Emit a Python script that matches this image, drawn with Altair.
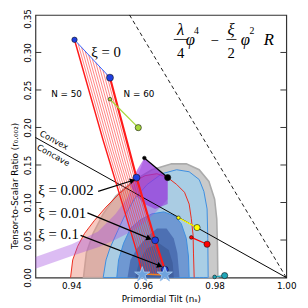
import altair as alt
import numpy as np
import pandas as pd

W, H = 256, 268
XDOM = [0.93, 1.00]
YDOM = [0.0, 0.35]

x_ticks = [0.94, 0.96, 0.98, 1.00]
y_ticks = [0.00, 0.05, 0.10, 0.15, 0.20, 0.25, 0.30, 0.35]

# ---- confidence regions (upper boundary, closed down to r = 0)
gray_ns = [0.9434, 0.9442, 0.9461, 0.9489, 0.9524, 0.9571, 0.9625, 0.9680, 0.9721, 0.9757, 0.9784, 0.9800, 0.9806, 0.9808, 0.9809]
gray_r = [0.0, 0.0326, 0.0588, 0.0849, 0.1084, 0.1280, 0.1437, 0.1515, 0.1515, 0.1437, 0.1280, 0.1045, 0.0784, 0.0392, 0.0]

salmon_ns = [0.9398, 0.9404, 0.9418, 0.9437, 0.9464, 0.9497, 0.9535, 0.9571, 0.9606, 0.9639, 0.9669, 0.9694, 0.9716, 0.9729, 0.9735, 0.9740, 0.9741, 0.9743]
salmon_r = [0.0, 0.0235, 0.0418, 0.0588, 0.0757, 0.0940, 0.1123, 0.1267, 0.1358, 0.1384, 0.1332, 0.1241, 0.1136, 0.0979, 0.0784, 0.0562, 0.0326, 0.0]

lblue_ns = [0.9489, 0.9497, 0.9508, 0.9530, 0.9549, 0.9576, 0.9612, 0.9653, 0.9694, 0.9729, 0.9757, 0.9770, 0.9779, 0.9781, 0.9782]
lblue_r = [0.0, 0.0235, 0.0392, 0.0627, 0.0823, 0.1045, 0.1241, 0.1384, 0.1437, 0.1410, 0.1306, 0.1149, 0.0914, 0.0522, 0.0]

mblue_ns = [0.9527, 0.9532, 0.9546, 0.9565, 0.9593, 0.9625, 0.9658, 0.9688, 0.9707, 0.9721, 0.9727, 0.9729]
mblue_r = [0.0, 0.0235, 0.0457, 0.0653, 0.0771, 0.0849, 0.0875, 0.0823, 0.0718, 0.0522, 0.0287, 0.0]

dblue_ns = [0.9557, 0.9565, 0.9584, 0.9612, 0.9639, 0.9666, 0.9686, 0.9696, 0.9702]
dblue_r = [0.0, 0.0235, 0.0392, 0.0548, 0.0653, 0.0653, 0.0522, 0.0326, 0.0]

ddblue_ns = [0.9579, 0.9590, 0.9612, 0.9645, 0.9672, 0.9683, 0.9686]
ddblue_r = [0.0, 0.0235, 0.0392, 0.0457, 0.0366, 0.0196, 0.0]

# ---- purple xi-sweep band (upper / lower edges)
purple_ns = [0.9300, 0.9401, 0.9475, 0.9524, 0.9557, 0.9584, 0.9604, 0.9639, 0.9669]
purple_hi = [0.0274, 0.0444, 0.0614, 0.0849, 0.1071, 0.1332, 0.1593, 0.1452, 0.1332]
purple_lo = [0.0118, 0.0287, 0.0405, 0.0507, 0.0587, 0.0665, 0.0732, 0.0888, 0.1045]

violet_ns = [0.9565, 0.9584, 0.9604, 0.9634, 0.9669]
violet_hi = [0.1260, 0.1437, 0.1593, 0.1472, 0.1332]
violet_lo = [0.1220, 0.1080, 0.0979, 0.0914, 0.0979]

# ---- N = 50 and N = 60 tracks (xi from 0 to large)
n50_ns = [0.9409, 0.9489, 0.9543, 0.9584, 0.9598]
n50_r = [0.3169, 0.1828, 0.0979, 0.0326, 0.0048]
n60_ns = [0.9508, 0.9582, 0.9634, 0.9661, 0.9663]
n60_r = [0.2664, 0.1332, 0.0496, 0.0104, 0.0035]

xi_dots_ns = [0.9508, 0.9582, 0.9634, 0.9661]
xi_dots_r = [0.2664, 0.1332, 0.0496, 0.0104]

star_ns = [0.9598, 0.9661]
star_r = [0.0040, 0.0040]

# ---- other model tracks (small dot N=50 -> big dot N=60)
tracks = {
    "green": ([0.9508, 0.9587], [0.2377, 0.1998], "#a6d83a"),
    "black": ([0.9604, 0.9669], [0.1593, 0.1332], "#000000"),
    "yellow": ([0.9699, 0.9751], [0.0797, 0.0666], "#ffff00"),
    "red": ([0.9735, 0.9779], [0.0535, 0.0444], "#ff0000"),
    "teal": ([0.9800, 0.9828], [0.0008, 0.0026], "#1fa6b8"),
}

convex_ns = [0.93, 1.00]
convex_r = [0.1867, 0.0]
dash_ns = [0.95625, 1.00]
dash_r = [0.35, 0.0]

# ---- annotations
xi_labels = ["ξ = 0.002", "ξ = 0.01", "ξ = 0.1"]
xi_label_ns = [0.9308, 0.9308, 0.9308]
xi_label_r = [0.1162, 0.0862, 0.0575]
arrow_from_ns = [0.9475, 0.9445, 0.9426]
arrow_from_r = [0.1149, 0.0862, 0.0562]
arrow_to_ns = [0.9571, 0.9617, 0.9647]
arrow_to_r = [0.1293, 0.0522, 0.0157]

xs = alt.Scale(domain=XDOM, nice=False, zero=False)
ys = alt.Scale(domain=YDOM, nice=False, zero=False)
xaxis = alt.Axis(values=x_ticks, format=".2f", ticks=False, domain=False, grid=False,
                 labelFont="DejaVu Sans", labelFontSize=9, labelPadding=4, labelColor="#000",
                 labelFlush=False, labelOverlap=False,
                 title="Primordial Tilt (nₛ)", titleFont="DejaVu Sans", titleFontSize=9,
                 titleFontWeight="normal", titleY=21, titleBaseline="middle", titleColor="#000")
yaxis = alt.Axis(values=y_ticks[:-1], format=".2f", ticks=False, domain=False, grid=False,
                 labelFont="DejaVu Sans", labelFontSize=9, labelPadding=3, labelAngle=270,
                 labelAlign="center", labelBaseline="bottom", labelColor="#000",
                 labelFlush=False, labelOverlap=False,
                 title="Tensor-to-Scalar Ratio (r₀.₀₀₂)", titleFont="DejaVu Sans", titleFontSize=9,
                 titleFontWeight="normal", titleAngle=270, titleX=-21, titleY=174,
                 titleAlign="center", titleBaseline="middle", titleColor="#000")


def X(f="ns"):
    return alt.X(f"{f}:Q", scale=xs, axis=xaxis)


def Y(f="r"):
    return alt.Y(f"{f}:Q", scale=ys, axis=yaxis)


def dome(ns, r, **mk):
    df = pd.DataFrame({"ns": ns, "r": r})
    return alt.Chart(df).mark_area(**mk).encode(x=X(), y=Y(), y2=alt.datum(0))


def band(ns, hi, lo, **mk):
    df = pd.DataFrame({"ns": ns, "r": hi, "r2": lo})
    return alt.Chart(df).mark_area(**mk).encode(x=X(), y=Y(), y2="r2:Q")


def path(ns, r, **mk):
    df = pd.DataFrame({"ns": ns, "r": r, "i": np.arange(len(ns))})
    return alt.Chart(df).mark_line(**mk).encode(x=X(), y=Y(), order="i:Q")


sx = W / (XDOM[1] - XDOM[0])
sy = H / (YDOM[1] - YDOM[0])

layers = []
layers.append(dome(gray_ns, gray_r, fill="#cacaca", stroke="#ababab", strokeWidth=1.6))
layers.append(dome(salmon_ns, salmon_r, fill="#ee9484", fillOpacity=0.5))
layers.append(dome(lblue_ns, lblue_r, fill="#a7cde6", fillOpacity=0.95, stroke="#3b8de0", strokeWidth=1))
layers.append(dome(mblue_ns, mblue_r, fill="#6f98d2", stroke="#3b8de0", strokeWidth=1))
layers.append(dome(dblue_ns, dblue_r, fill="#4d70b3"))
layers.append(dome(ddblue_ns, ddblue_r, fill="#41609f"))
layers.append(path(salmon_ns, salmon_r, color="#ee2a1c", strokeWidth=1))
layers.append(band(purple_ns, purple_hi, purple_lo, fill="#a34ee0", fillOpacity=0.38))
layers.append(band(violet_ns, violet_hi, violet_lo, fill="#8f25da", fillOpacity=0.55))
layers.append(path(convex_ns, convex_r, color="#000", strokeWidth=1))
layers.append(path(dash_ns, dash_r, color="#000", strokeWidth=0.9, strokeDash=[4, 3]))

# hatch between N=50 and N=60 tracks
L = np.array([n50_ns, n50_r])
R = np.array([n60_ns, n60_r])
rows = []
for k, f in enumerate(np.linspace(0, 1, 11)[1:-1]):
    P = (1 - f) * L + f * R
    for i in range(P.shape[1]):
        rows.append({"ns": P[0, i], "r": P[1, i], "k": k, "i": i})
hatch = pd.DataFrame(rows)
layers.append(alt.Chart(hatch).mark_line(color="#ff3030", strokeWidth=0.6).encode(
    x=X(), y=Y(), detail="k:N", order="i:Q"))
layers.append(path(n50_ns, n50_r, color="#ff1a1a", strokeWidth=1.5))
layers.append(path(n60_ns, n60_r, color="#ff1a1a", strokeWidth=2.2))
layers.append(path([n50_ns[-1], n60_ns[-1]], [n50_r[-1], n60_r[-1]], color="#f08020", strokeWidth=1.5))
layers.append(path([n50_ns[0], n60_ns[0]], [n50_r[0], n60_r[0]], color="#3060ff", strokeWidth=1))

for name, (tn, tr, c) in tracks.items():
    layers.append(path(tn, tr, color=c, strokeWidth=1.3))

# dots
dot_rows = []
for name, (tn, tr, c) in tracks.items():
    dot_rows.append({"ns": tn[0], "r": tr[0], "c": c, "s": 14})
    dot_rows.append({"ns": tn[1], "r": tr[1], "c": c, "s": 40})
dot_rows.append({"ns": n50_ns[0], "r": n50_r[0], "c": "#1f3fe0", "s": 30})
for a, b in zip(xi_dots_ns, xi_dots_r):
    dot_rows.append({"ns": a, "r": b, "c": "#1f3fe0", "s": 50})
dots = pd.DataFrame(dot_rows)
layers.append(alt.Chart(dots).mark_point(filled=True, opacity=1, stroke="#111", strokeWidth=0.6).encode(
    x=X(), y=Y(), fill=alt.Fill("c:N", scale=None), size=alt.Size("s:Q", scale=None)))

star = "M0,-1L0.2245,-0.309L0.951,-0.309L0.363,0.118L0.588,0.809L0,0.382L-0.588,0.809L-0.363,0.118L-0.951,-0.309L-0.2245,-0.309Z"
layers.append(alt.Chart(pd.DataFrame({"ns": star_ns, "r": star_r})).mark_point(
    shape=star, filled=True, fill="#6fa3dd", stroke="#9fc4ee", strokeWidth=1, size=260, opacity=1).encode(
    x=X(), y=Y()))

# arrows
arr = pd.DataFrame({"ns": arrow_from_ns, "r": arrow_from_r, "ns2": arrow_to_ns, "r2": arrow_to_r})
arr["ang"] = np.mod(np.degrees(np.arctan2(-(arr.r2 - arr.r) * sy, (arr.ns2 - arr.ns) * sx)), 360)
layers.append(alt.Chart(arr).mark_rule(color="#000", strokeWidth=1.2).encode(
    x=X(), y=Y(), x2="ns2:Q", y2="r2:Q"))
layers.append(alt.Chart(arr).mark_point(shape="triangle-right", filled=True, color="#000", size=40, opacity=1).encode(
    x=X("ns2"), y=Y("r2"), angle=alt.Angle("ang:Q", scale=None)))

# text labels
layers.append(alt.Chart(pd.DataFrame({"t": xi_labels, "ns": xi_label_ns, "r": xi_label_r})).mark_text(
    font="Liberation Serif", fontSize=15, align="left", baseline="middle", color="#000").encode(
    x=X(), y=Y(), text="t:N"))
layers.append(alt.Chart(pd.DataFrame({"t": ["ξ = 0"], "ns": [0.9456], "r": [0.3004]})).mark_text(
    font="Liberation Serif", fontSize=15, align="left", baseline="middle", color="#000").encode(
    x=X(), y=Y(), text="t:N"))
layers.append(alt.Chart(pd.DataFrame({"t": ["N = 50", "N = 60"], "ns": [0.9344, 0.9546], "r": [0.2442, 0.2442]})).mark_text(
    font="DejaVu Sans", fontSize=9, align="left", baseline="middle", color="#000").encode(
    x=X(), y=Y(), text="t:N"))
layers.append(alt.Chart(pd.DataFrame({"t": ["Convex", "Concave"], "ns": [0.9352, 0.9350], "r": [0.1832, 0.1632]})).mark_text(
    font="DejaVu Sans", fontSize=8.5, align="center", baseline="middle", angle=29, color="#000").encode(
    x=X(), y=Y(), text="t:N"))

# top y tick label, kept inside the page
top_lab = pd.DataFrame({"t": ["0.35"], "ns": [XDOM[0] - 3 / sx], "r": [YDOM[1] - 4 / sy]})
layers.append(alt.Chart(top_lab).mark_text(font="DejaVu Sans", fontSize=9, align="center", baseline="bottom",
                                           angle=270, color="#000").encode(x=X(), y=Y(), text="t:N"))

# formula  λ/4 φ⁴ − ξ/2 φ² R
f_it = pd.DataFrame({"t": ["λ", "φ", "ξ", "φ", "R"],
                     "ns": [0.9705, 0.9732, 0.9846, 0.9886, 0.9951],
                     "r": [0.3304, 0.3160, 0.3304, 0.3160, 0.3160]})
f_up = pd.DataFrame({"t": ["4", "2", "−"], "ns": [0.9705, 0.9846, 0.9800], "r": [0.2991, 0.2991, 0.3160]})
f_sup = pd.DataFrame({"t": ["4", "2"], "ns": [0.9749, 0.9904], "r": [0.3290, 0.3290]})
f_bar = pd.DataFrame({"ns": [0.9686, 0.9833], "ns2": [0.9724, 0.9861], "r": [0.3173, 0.3173]})
layers.append(alt.Chart(f_it).mark_text(font="Liberation Serif", fontStyle="italic", fontSize=17,
                                        align="center", baseline="middle", color="#000").encode(x=X(), y=Y(), text="t:N"))
layers.append(alt.Chart(f_up).mark_text(font="Liberation Serif", fontSize=15,
                                        align="center", baseline="middle", color="#000").encode(x=X(), y=Y(), text="t:N"))
layers.append(alt.Chart(f_sup).mark_text(font="Liberation Serif", fontSize=10,
                                         align="center", baseline="middle", color="#000").encode(x=X(), y=Y(), text="t:N"))
layers.append(alt.Chart(f_bar).mark_rule(color="#000", strokeWidth=0.8).encode(x=X(), x2="ns2:Q", y=Y()))

# inward ticks on left and right frame
tl = 6 / sx
inner = [v for v in y_ticks if 0 < v < 0.35]
tick_df = pd.DataFrame({"ns": [XDOM[0]] * len(inner) + [XDOM[1] - tl] * len(inner),
                        "ns2": [XDOM[0] + tl] * len(inner) + [XDOM[1]] * len(inner),
                        "r": inner + inner})
layers.append(alt.Chart(tick_df).mark_rule(color="#333", strokeWidth=1).encode(x=X(), x2="ns2:Q", y=Y()))

chart = alt.layer(*layers).properties(
    width=W, height=H,
    padding={"left": 28, "top": 4, "right": 14, "bottom": 28},
    autosize=alt.AutoSizeParams(type="none"),
).configure_view(stroke="#333", strokeWidth=1.2)

chart.save("out.html", embed_options={"renderer": "svg", "actions": False})
